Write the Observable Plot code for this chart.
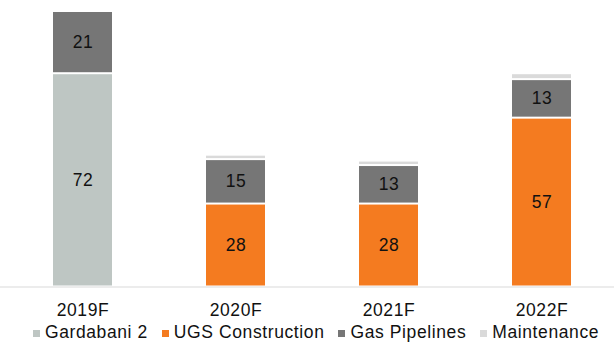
<!DOCTYPE html>
<html>
<head>
<meta charset="utf-8">
<script src="https://cdn.jsdelivr.net/npm/d3@7"></script>
<script src="https://cdn.jsdelivr.net/npm/@observablehq/plot@0.6"></script>
<style>
  html, body { margin: 0; padding: 0; background: #fff; }
  body { width: 614px; height: 345px; overflow: hidden; font-family: "Liberation Sans", Arial, sans-serif; }
  #legend { display: flex; justify-content: center; align-items: center; height: 25px; font-size: 17.5px; letter-spacing: 0.6px; color: #111; white-space: nowrap; padding-left: 18px; }
  #legend .item { display: flex; align-items: center; margin: 0 7px; }
  #legend .sw { width: 7px; height: 7px; margin-right: 5px; margin-top: 2px; }
  svg text { letter-spacing: 0.6px; }
</style>
</head>
<body>
<div id="chart"></div>
<div id="legend"></div>
<script>
const years = ["2019F", "2020F", "2021F", "2022F"];
const seriesNames = ["Gardabani 2", "UGS Construction", "Gas Pipelines", "Maintenance"];
const seriesColors = ["#bec6c3", "#f47b20", "#767676", "#dadada"];
const gardabani = [72, 0, 0, 0];
const ugs = [0, 28, 28, 57];
const pipelines = [21, 15, 13, 13];
const maintenance = [0, 1.5, 1.5, 2];

const valuesBySeries = [gardabani, ugs, pipelines, maintenance];
const data = [];
seriesNames.forEach((s, si) => {
  years.forEach((y, yi) => {
    data.push({year: y, series: s, value: valuesBySeries[si][yi]});
  });
});

const chart = Plot.plot({
  width: 614,
  height: 320,
  marginTop: 11,
  marginBottom: 33.5,
  marginLeft: 0,
  marginRight: 0,
  style: {fontFamily: "'Liberation Sans', Arial, sans-serif", fontSize: "17.5px", color: "#111", overflow: "visible"},
  x: {domain: years, range: [6.8, 617.6], paddingInner: 0.614, paddingOuter: 0.3, label: null},
  y: {domain: [0, 93], axis: null},
  color: {domain: seriesNames, range: seriesColors},
  marks: [
    Plot.barY(data, Plot.stackY({
      x: "year", y: "value", z: "series", fill: "series",
      order: seriesNames, insetTop: 1, insetBottom: 1,
      filter: d => d.value > 0
    })),
    Plot.text(data, Plot.stackY({
      x: "year", y: "value", z: "series", text: "value",
      order: seriesNames,
      filter: d => d.value > 3 && d.series !== "Maintenance",
      fill: "#111", fontSize: 17.5
    })),
    Plot.ruleY([0], {stroke: "#d9d9d9", strokeWidth: 1}),
    Plot.axisX({tickSize: 0, tickPadding: 16.5, fontSize: 17.5, label: null, fill: "#111"})
  ]
});
document.getElementById("chart").appendChild(chart);

const legend = document.getElementById("legend");
seriesNames.forEach((s, i) => {
  const item = document.createElement("div");
  item.className = "item";
  const sw = document.createElement("span");
  sw.className = "sw";
  sw.style.background = seriesColors[i];
  const t = document.createElement("span");
  t.textContent = s;
  item.appendChild(sw);
  item.appendChild(t);
  legend.appendChild(item);
});
</script>
</body>
</html>
